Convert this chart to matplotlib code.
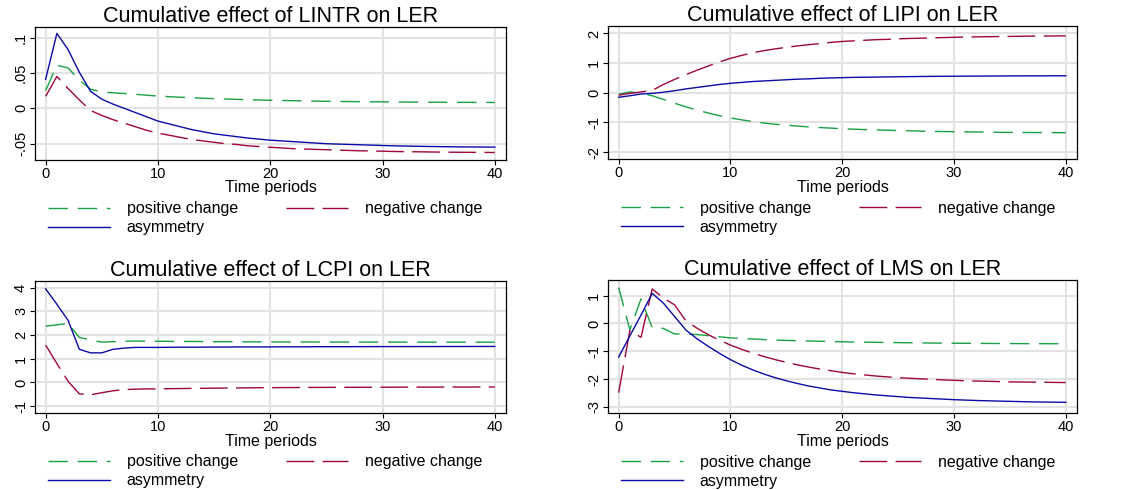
import matplotlib
matplotlib.use("Agg")
from matplotlib import pyplot as plt

plt.rcParams['font.family'] = ['Liberation Sans', 'DejaVu Sans']

periods = list(range(41))

# Cumulative effect of LINTR on LER
lintr_pos = [.025, .061, .057, .040, .027, .023, .022, .021, .020, .0185, .0174, .0165, .0157, .0150,
             .0143, .0137, .0132, .0127, .0122, .0118, .0114, .0111, .0108, .0105, .0102, .0100,
             .0098, .0096, .0094, .0093, .0092, .0090, .0089, .0088, .0087, .0086, .0085, .0085,
             .0084, .0084, .0083]
lintr_neg = [.017, .045, .028, .012, -.003, -.010, -.016, -.021, -.026, -.031, -.035, -.038, -.041,
             -.044, -.046, -.048, -.050, -.051, -.053, -.054, -.055, -.056, -.057, -.0575, -.058,
             -.0585, -.059, -.0595, -.060, -.0603, -.0606, -.061, -.0612, -.0614, -.0616, -.0618,
             -.062, -.0621, -.0622, -.0623, -.0624]
lintr_asym = [.041, .106, .083, .051, .024, .013, .006, .000, -.006, -.012, -.018, -.022, -.026,
              -.030, -.033, -.036, -.038, -.040, -.042, -.0435, -.045, -.046, -.047, -.048, -.049,
              -.050, -.0505, -.051, -.0515, -.052, -.0525, -.053, -.0533, -.0536, -.0539, -.0541,
              -.0543, -.0545, -.0546, -.0547, -.0548]

# Cumulative effect of LIPI on LER
lipi_pos = [-.05, .03, -.01, -.10, -.22, -.35, -.47, -.58, -.68, -.77, -.85, -.91, -.97, -1.02,
            -1.06, -1.09, -1.12, -1.15, -1.17, -1.19, -1.21, -1.225, -1.24, -1.25, -1.26, -1.27,
            -1.28, -1.29, -1.30, -1.305, -1.31, -1.315, -1.32, -1.325, -1.33, -1.333, -1.336,
            -1.338, -1.34, -1.342, -1.344]
lipi_neg = [-.08, -.02, .03, .08, .28, .45, .61, .76, .90, 1.04, 1.16, 1.26, 1.35, 1.42, 1.48, 1.53,
            1.58, 1.62, 1.66, 1.70, 1.73, 1.75, 1.77, 1.79, 1.80, 1.82, 1.83, 1.84, 1.85, 1.86, 1.87,
            1.88, 1.885, 1.89, 1.895, 1.90, 1.905, 1.91, 1.912, 1.915, 1.918]
lipi_asym = [-.15, -.10, -.04, -.02, .02, .07, .13, .18, .23, .28, .32, .35, .38, .40, .42, .44, .46,
             .47, .49, .50, .51, .52, .525, .53, .535, .54, .545, .55, .553, .556, .559, .561, .563,
             .565, .567, .569, .570, .571, .572, .573, .574]

# Cumulative effect of LCPI on LER
lcpi_pos = [2.38, 2.43, 2.50, 1.90, 1.80, 1.70, 1.72, 1.74, 1.75, 1.74, 1.74, 1.735, 1.73, 1.73,
            1.725, 1.72, 1.72, 1.72, 1.715, 1.715, 1.71, 1.71, 1.71, 1.708, 1.708, 1.706, 1.706,
            1.705, 1.705, 1.704, 1.704, 1.703, 1.703, 1.702, 1.702, 1.701, 1.701, 1.700, 1.700,
            1.700, 1.700]
lcpi_neg = [1.58, .80, .05, -.48, -.52, -.43, -.35, -.30, -.28, -.27, -.27, -.26, -.255, -.25, -.245,
            -.24, -.235, -.23, -.225, -.22, -.22, -.215, -.213, -.21, -.208, -.206, -.205, -.203,
            -.202, -.2, -.199, -.198, -.197, -.196, -.195, -.194, -.193, -.192, -.191, -.19, -.19]
lcpi_asym = [3.95, 3.30, 2.62, 1.40, 1.25, 1.25, 1.40, 1.45, 1.48, 1.48, 1.48, 1.485, 1.49, 1.49,
             1.49, 1.495, 1.495, 1.50, 1.50, 1.50, 1.50, 1.505, 1.505, 1.505, 1.51, 1.51, 1.51, 1.51,
             1.512, 1.512, 1.514, 1.514, 1.515, 1.515, 1.516, 1.517, 1.518, 1.518, 1.519, 1.52, 1.52]

# Cumulative effect of LMS on LER
lms_pos = [1.29, -.23, .88, -.15, -.18, -.38, -.38, -.40, -.44, -.48, -.52, -.54, -.56, -.58, -.60,
           -.61, -.62, -.63, -.64, -.65, -.66, -.67, -.675, -.68, -.685, -.69, -.695, -.70, -.705,
           -.71, -.712, -.715, -.718, -.72, -.722, -.724, -.726, -.728, -.729, -.73, -.73]
lms_neg = [-2.49, -.26, -.50, 1.24, .91, .67, .10, -.17, -.40, -.60, -.78, -.93, -1.07, -1.19, -1.30,
           -1.40, -1.49, -1.57, -1.64, -1.70, -1.76, -1.81, -1.85, -1.89, -1.92, -1.95, -1.97, -1.99,
           -2.01, -2.03, -2.045, -2.06, -2.07, -2.08, -2.09, -2.10, -2.105, -2.11, -2.115, -2.12,
           -2.125]
lms_asym = [-1.21, -.45, .30, 1.08, .73, .25, -.23, -.55, -.82, -1.07, -1.30, -1.50, -1.67, -1.82,
            -1.95, -2.06, -2.16, -2.25, -2.32, -2.39, -2.44, -2.49, -2.53, -2.57, -2.60, -2.63, -2.66,
            -2.68, -2.70, -2.72, -2.74, -2.755, -2.77, -2.78, -2.79, -2.80, -2.81, -2.82, -2.825,
            -2.83, -2.835]

panels = [
    ("LINTR", lintr_pos, lintr_neg, lintr_asym, [.1, .05, 0, -.05], [".1", ".05", "0", "-.05"], (-.073, .115)),
    ("LIPI", lipi_pos, lipi_neg, lipi_asym, [2, 1, 0, -1, -2], ["2", "1", "0", "-1", "-2"], (-2.24, 2.25)),
    ("LCPI", lcpi_pos, lcpi_neg, lcpi_asym, [4, 3, 2, 1, 0, -1], ["4", "3", "2", "1", "0", "-1"], (-1.3, 4.28)),
    ("LMS", lms_pos, lms_neg, lms_asym, [1, 0, -1, -2, -3], ["1", "0", "-1", "-2", "-3"], (-3.23, 1.56)),
]

# axes boxes in figure fractions
boxes = [
    [0.0312, 0.6735, 0.4202, 0.2714],
    [0.5424, 0.6749, 0.4183, 0.2720],
    [0.0312, 0.1565, 0.4202, 0.2700],
    [0.5424, 0.1565, 0.4183, 0.2721],
]

green = "#18a045"
maroon = "#a0053c"
navy = "#0a0aa8"

fig = plt.figure(figsize=(11.21, 4.9), dpi=100)

for (name, pos, neg, asym, yt, ytl, ylim), box in zip(panels, boxes):
    ax = fig.add_axes(box)
    for x in [0, 10, 20, 30, 40]:
        ax.axvline(x, color="#e2e2e2", lw=1.5, zorder=0)
    for y in yt:
        ax.axhline(y, color="#e2e2e2", lw=1.5, zorder=0)
    l1, = ax.plot(periods, pos, color=green, lw=1.0, linestyle=(0, (14, 7)), label="positive change")
    l2, = ax.plot(periods, neg, color=maroon, lw=1.0, linestyle=(0, (20, 6)), label="negative change")
    l3, = ax.plot(periods, asym, color=navy, lw=1.0, label="asymmetry")
    ax.set_xlim(-0.95, 41)
    ax.set_ylim(*ylim)
    ax.set_xticks([0, 10, 20, 30, 40])
    ax.set_yticks(yt)
    ax.set_yticklabels(ytl, rotation=90, va="center")
    ax.tick_params(direction="out", length=3.5, width=0.8, labelsize=10.5, pad=1.5)
    for s in ax.spines.values():
        s.set_linewidth(0.9)
    ax.set_title("Cumulative effect of %s on LER" % name, fontsize=15.5, pad=3)
    ax.set_xlabel("Time periods", fontsize=11.5, labelpad=-0.5)
    ax.legend([l1, l3, l2], ["positive change", "asymmetry", "negative change"],
              ncol=2, frameon=False, loc="upper left", bbox_to_anchor=(0.027, -0.31),
              borderaxespad=0, borderpad=0, fontsize=11.5, handlelength=3.9,
              handletextpad=1.05, columnspacing=3.0, labelspacing=0.25)

fig.savefig("out.png", dpi=100)
